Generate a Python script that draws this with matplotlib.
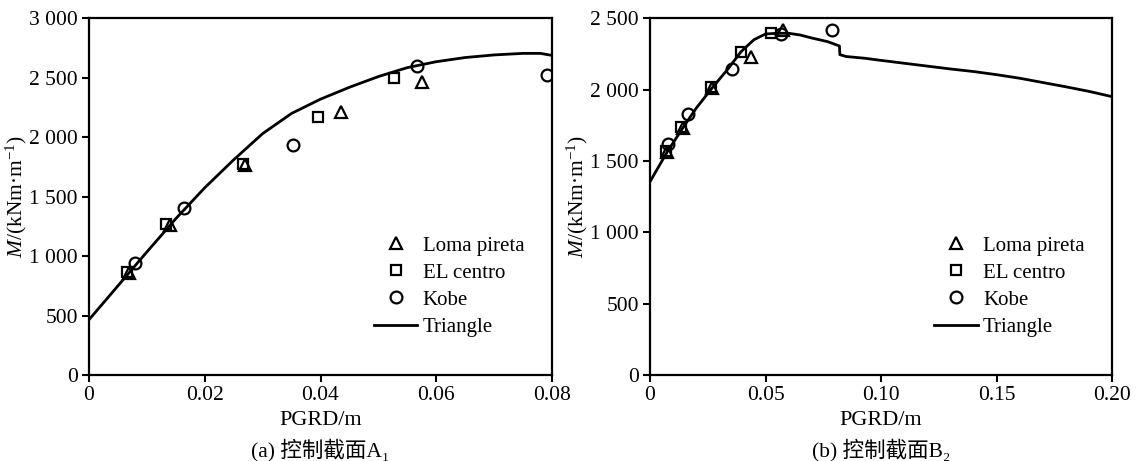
import matplotlib
matplotlib.use("Agg")
import matplotlib.pyplot as plt
from matplotlib.ticker import FuncFormatter

plt.rcParams['font.family'] = ['Liberation Serif', 'Noto Sans CJK SC', 'DejaVu Serif']
plt.rcParams['mathtext.fontset'] = 'custom'
plt.rcParams['mathtext.rm'] = 'Liberation Serif'
plt.rcParams['mathtext.it'] = 'Liberation Serif:italic'

# ---- (a) control section A1 ----
a_loma_x = [0.0069, 0.0140, 0.0270, 0.0436, 0.0576]
a_loma_y = [860, 1260, 1766, 2209, 2467]
a_elc_x = [0.0065, 0.0133, 0.0266, 0.0396, 0.0527]
a_elc_y = [865, 1272, 1775, 2168, 2502]
a_kobe_x = [0.0080, 0.0165, 0.0353, 0.0567, 0.0791]
a_kobe_y = [940, 1405, 1937, 2602, 2525]
a_tri_x = [0, 0.005, 0.010, 0.015, 0.020, 0.025, 0.030, 0.035, 0.040, 0.045,
           0.050, 0.055, 0.060, 0.065, 0.070, 0.075, 0.078, 0.080]
a_tri_y = [465, 750, 1035, 1315, 1575, 1810, 2030, 2200, 2320, 2420,
           2510, 2585, 2635, 2670, 2692, 2705, 2705, 2688]

# ---- (b) control section B2 ----
b_loma_x = [0.0075, 0.0143, 0.0270, 0.0437, 0.0576]
b_loma_y = [1565, 1734, 2014, 2227, 2420]
b_elc_x = [0.0068, 0.0135, 0.0262, 0.0394, 0.0525]
b_elc_y = [1572, 1741, 2016, 2266, 2398]
b_kobe_x = [0.0080, 0.0164, 0.0353, 0.0568, 0.0790]
b_kobe_y = [1619, 1827, 2145, 2393, 2415]
b_tri_x = [0, 0.0075, 0.0143, 0.020, 0.027, 0.034, 0.0394, 0.045, 0.050, 0.055,
           0.060, 0.065, 0.070, 0.077, 0.0820, 0.0822, 0.085, 0.093, 0.100, 0.110,
           0.120, 0.130, 0.140, 0.150, 0.160, 0.170, 0.180, 0.190, 0.200]
b_tri_y = [1355, 1565, 1734, 1870, 2014, 2150, 2266, 2350, 2390, 2395,
           2395, 2383, 2362, 2336, 2306, 2245, 2232, 2220, 2205, 2185,
           2165, 2145, 2127, 2105, 2080, 2050, 2020, 1988, 1951]

a_xticks = [0, 0.02, 0.04, 0.06, 0.08]
a_xlabels = ['0', '0.02', '0.04', '0.06', '0.08']
a_yticks = [0, 500, 1000, 1500, 2000, 2500, 3000]
b_xticks = [0, 0.05, 0.10, 0.15, 0.20]
b_xlabels = ['0', '0.05', '0.10', '0.15', '0.20']
b_yticks = [0, 500, 1000, 1500, 2000, 2500]

series_names = ['Loma pireta', 'EL centro', 'Kobe', 'Triangle']
subtitles = ['(a) 控制截面A\u2081', '(b) 控制截面B\u2082']

W, H = 1147, 461
fig = plt.figure(figsize=(W / 100, H / 100), dpi=100)


def px_axes(x0, x1, y0, y1):
    return fig.add_axes([x0 / W, 1 - y1 / H, (x1 - x0) / W, (y1 - y0) / H])


def thousands(v, pos):
    return f"{v:,.0f}".replace(",", " ")


def draw_panel(ax, loma, elc, kobe, tri, xlim, ylim, xticks, xlabels, yticks, sub):
    mk = dict(linestyle='none', markerfacecolor='none', markeredgecolor='black',
              markeredgewidth=1.6, markersize=8.5)
    ax.plot(*loma, marker='^', label=series_names[0], **mk)
    ax.plot(*elc, marker='s', label=series_names[1], **dict(mk, markersize=7.5))
    ax.plot(*kobe, marker='o', label=series_names[2], **mk)
    ax.plot(*tri, color='black', lw=2.0, label=series_names[3])
    ax.set_xlim(*xlim)
    ax.set_ylim(*ylim)
    ax.set_xticks(xticks)
    ax.set_xticklabels(xlabels)
    ax.set_yticks(yticks)
    ax.yaxis.set_major_formatter(FuncFormatter(thousands))
    ax.tick_params(direction='out', length=5, width=1.5, labelsize=15.5, pad=3)
    for s in ax.spines.values():
        s.set_linewidth(1.6)
    ax.set_xlabel('PGRD/m', fontsize=16, labelpad=4)
    ax.set_ylabel(r'$M$/(kNm·m$^{-1}$)', fontsize=15.5, labelpad=0)
    ax.text(0.5, -0.21, sub, transform=ax.transAxes, ha='center', va='center',
            fontsize=15.5)
    ax.legend(loc='upper left', bbox_to_anchor=(0.597, 0.413), frameon=False,
              fontsize=15, handlelength=2.1, handletextpad=0.25, labelspacing=0.36,
              borderaxespad=0)


ax1 = px_axes(89, 552, 18.3, 375)
draw_panel(ax1, (a_loma_x, a_loma_y), (a_elc_x, a_elc_y), (a_kobe_x, a_kobe_y),
           (a_tri_x, a_tri_y), (0, 0.08), (0, 3000), a_xticks, a_xlabels, a_yticks,
           subtitles[0])

ax2 = px_axes(650, 1112, 18.3, 375)
draw_panel(ax2, (b_loma_x, b_loma_y), (b_elc_x, b_elc_y), (b_kobe_x, b_kobe_y),
           (b_tri_x, b_tri_y), (0, 0.20), (0, 2500), b_xticks, b_xlabels, b_yticks,
           subtitles[1])

fig.savefig('out.png', dpi=100)
